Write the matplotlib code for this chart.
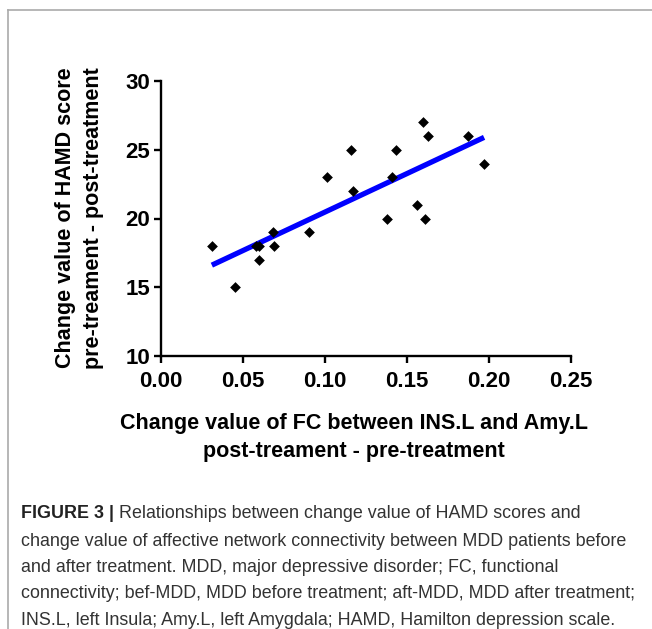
import matplotlib as mpl
mpl.use('Agg')
import matplotlib.pyplot as plt
from matplotlib.lines import Line2D
import numpy as np

# change of FC (post - pre) and change of HAMD (pre - post)
fc_change = [0.031, 0.045, 0.058, 0.060, 0.060, 0.068, 0.069, 0.090, 0.101,
             0.116, 0.117, 0.138, 0.141, 0.143, 0.156, 0.160, 0.161, 0.163,
             0.187, 0.197]
hamd_change = [18, 15, 18, 18, 17, 19, 18, 19, 23,
               25, 22, 20, 23, 25, 21, 27, 20, 26,
               26, 24]

xticks = [0.00, 0.05, 0.10, 0.15, 0.20, 0.25]
yticks = [10, 15, 20, 25, 30]

caption_lines = [
    "change value of affective network connectivity between MDD patients before",
    "and after treatment. MDD, major depressive disorder; FC, functional",
    "connectivity; bef-MDD, MDD before treatment; aft-MDD, MDD after treatment;",
    "INS.L, left Insula; Amy.L, left Amygdala; HAMD, Hamilton depression scale.",
]

plt.rcParams['font.family'] = ['Liberation Sans', 'DejaVu Sans']

W, H = 652, 629
fig = plt.figure(figsize=(W / 100, H / 100), dpi=100)

def fx(px):
    return px / W

def fy(py):
    return 1 - py / H

ax = fig.add_axes([fx(161), fy(356), fx(571) - fx(161), fy(81) - fy(356)])

x = np.array(fc_change)
y = np.array(hamd_change)
ax.scatter(x, y, marker='D', s=30, color='black', zorder=3, linewidths=0)

# least squares fit
slope, icpt = np.polyfit(x, y, 1)
xl = np.array([x.min(), x.max()])
ax.plot(xl, slope * xl + icpt, color='#0000ff', lw=3.8, solid_capstyle='butt', zorder=2)

ax.set_xlim(0, 0.25)
ax.set_ylim(10, 30)
ax.set_xticks(xticks)
ax.set_yticks(yticks)
ax.set_xticklabels(['%.2f' % t for t in xticks])
ax.set_yticklabels([str(t) for t in yticks])
for s in ['top', 'right']:
    ax.spines[s].set_visible(False)
for s in ['left', 'bottom']:
    ax.spines[s].set_linewidth(1.7)
ax.tick_params(direction='out', length=5, width=1.7, labelsize=16, pad=3)
ax.tick_params(axis='x', pad=6)
for lab in ax.get_xticklabels() + ax.get_yticklabels():
    lab.set_fontweight('bold')

# axis titles
lab_fs = 15.5
fig.text(fx(354), fy(424), "Change value of FC between INS.L and Amy.L",
         ha='center', va='center', fontsize=lab_fs, fontweight='bold')
fig.text(fx(354), fy(452), "post-treament - pre-treatment",
         ha='center', va='center', fontsize=lab_fs, fontweight='bold')
fig.text(fx(66), fy(218), "Change value of HAMD score",
         ha='center', va='center', rotation=90, fontsize=lab_fs, fontweight='bold')
fig.text(fx(94), fy(218), "pre-treament - post-treatment",
         ha='center', va='center', rotation=90, fontsize=lab_fs, fontweight='bold')

# caption
cap_fs = 12.9
t = fig.text(fx(21), fy(514), "FIGURE 3 | ", ha='left', va='center',
             fontsize=cap_fs, fontweight='bold', color='#222222')
fig.canvas.draw()
bb = t.get_window_extent()
fig.text(bb.x1 / W, fy(514), "Relationships between change value of HAMD scores and",
         ha='left', va='center', fontsize=cap_fs, color='#333333')
for i, line in enumerate(caption_lines):
    fig.text(fx(21), fy(541 + 26.5 * i), line, ha='left', va='center',
             fontsize=cap_fs, color='#333333')

# grey frame
fig.add_artist(Line2D([fx(8), fx(652)], [fy(10), fy(10)], color='#aaaaaa', lw=1.2))
fig.add_artist(Line2D([fx(8), fx(8)], [fy(10), fy(629)], color='#aaaaaa', lw=1.2))

fig.savefig('out.png', dpi=100, facecolor='w')
